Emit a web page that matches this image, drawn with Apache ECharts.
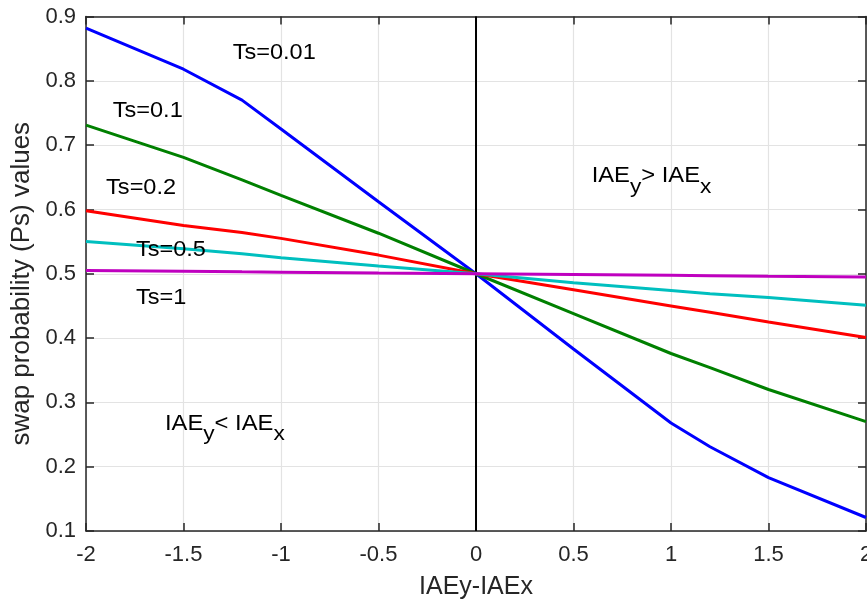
<!DOCTYPE html>
<html>
<head>
<meta charset="utf-8">
<script src="https://cdn.jsdelivr.net/npm/echarts@6/dist/echarts.min.js"></script>
<style>
html,body{margin:0;padding:0;background:#fff;}
#main{width:867px;height:603px;}
</style>
</head>
<body>
<div id="main"></div>
<script>
// ---- data ----
const xValues = [-2, -1.5, -1.2, -1, -0.5, 0, 0.5, 1, 1.2, 1.5, 2];
const ts001 = [0.882, 0.818, 0.770, 0.725, 0.612, 0.5, 0.383, 0.268, 0.231, 0.183, 0.121];
const ts01  = [0.731, 0.681, 0.646, 0.622, 0.563, 0.5, 0.438, 0.376, 0.354, 0.320, 0.270];
const ts02  = [0.598, 0.575, 0.564, 0.555, 0.529, 0.5, 0.475, 0.450, 0.440, 0.425, 0.401];
const ts05  = [0.550, 0.539, 0.531, 0.525, 0.512, 0.5, 0.486, 0.474, 0.469, 0.463, 0.451];
const ts1   = [0.505, 0.504, 0.503, 0.5025, 0.501, 0.5, 0.499, 0.4975, 0.497, 0.496, 0.495];
const seriesNames = ['Ts=0.01', 'Ts=0.1', 'Ts=0.2', 'Ts=0.5', 'Ts=1'];
const seriesColors = ['#0000ff', '#008000', '#ff0000', '#00bfbf', '#bf00bf'];
const zeroLine = [[0, 0.1], [0, 0.9]];
// label anchor positions (data coords: left x, center y)
const tsLabelPos = [[-1.248, 0.843], [-1.863, 0.753], [-1.897, 0.633], [-1.744, 0.537], [-1.744, 0.462]];
// region labels: pieces [text, isSubscript]
const regionLabels = [
  {pieces: [['IAE', 0], ['y', 1], ['> IAE', 0], ['x', 1]], pos: [0.593, 0.652]},
  {pieces: [['IAE', 0], ['y', 1], ['< IAE', 0], ['x', 1]], pos: [-1.595, 0.267]}
];

const FONT = '"Liberation Sans", Arial, Helvetica, sans-serif';
const AX = '#262626';
const GRID = '#e3e3e3';

const chart = echarts.init(document.getElementById('main'), null, {renderer: 'canvas'});

const allSeries = [ts001, ts01, ts02, ts05, ts1].map((vals, i) => ({
  name: seriesNames[i],
  type: 'line',
  data: xValues.map((x, k) => [x, vals[k]]),
  symbol: 'none',
  smooth: false,
  lineStyle: {color: seriesColors[i], width: 3},
  itemStyle: {color: seriesColors[i]},
  z: 3 + i,
  animation: false
}));
allSeries.unshift({
  name: 'zero',
  type: 'line',
  data: zeroLine,
  symbol: 'none',
  lineStyle: {color: '#000', width: 2},
  z: 2,
  animation: false
});

chart.setOption({
  backgroundColor: '#fff',
  animation: false,
  grid: {left: 86, right: 1, top: 16.5, bottom: 72, containLabel: false, outerBoundsMode: 'none'},
  xAxis: [{
    type: 'value', min: -2, max: 2, interval: 0.5,
    position: 'bottom',
    name: 'IAEy-IAEx', nameLocation: 'middle', nameGap: 44,
    nameTextStyle: {fontFamily: FONT, fontSize: 25, color: '#262626'},
    axisLine: {show: true, onZero: false, lineStyle: {color: AX, width: 1.5}},
    axisTick: {show: true, inside: true, length: 8, lineStyle: {color: AX, width: 1.5}},
    axisLabel: {fontFamily: FONT, fontSize: 22, color: '#262626', margin: 13, showMaxLabel: true, showMinLabel: true, hideOverlap: false},
    splitLine: {show: true, lineStyle: {color: GRID, width: 1.2}}
  }, {
    type: 'value', min: -2, max: 2, interval: 0.5,
    position: 'top',
    axisLine: {show: true, onZero: false, lineStyle: {color: AX, width: 1.5}},
    axisTick: {show: true, inside: true, length: 8, lineStyle: {color: AX, width: 1.5}},
    axisLabel: {show: false},
    splitLine: {show: false}
  }],
  yAxis: [{
    type: 'value', min: 0.1, max: 0.9, interval: 0.1,
    position: 'left',
    name: 'swap probability (Ps) values', nameLocation: 'middle', nameGap: 49,
    nameTextStyle: {fontFamily: FONT, fontSize: 26, color: '#262626', padding: [0, 20, 0, 0]},
    axisLine: {show: true, onZero: false, lineStyle: {color: AX, width: 1.5}},
    axisTick: {show: true, inside: true, length: 8, lineStyle: {color: AX, width: 1.5}},
    axisLabel: {fontFamily: FONT, fontSize: 22, color: '#262626', margin: 10,
      formatter: v => (Math.round(v * 10) / 10).toString()},
    splitLine: {show: true, lineStyle: {color: GRID, width: 1.2}}
  }, {
    type: 'value', min: 0.1, max: 0.9, interval: 0.1,
    position: 'right',
    axisLine: {show: true, onZero: false, lineStyle: {color: AX, width: 1.5}},
    axisTick: {show: true, inside: true, length: 8, lineStyle: {color: AX, width: 1.5}},
    axisLabel: {show: false},
    splitLine: {show: false}
  }],
  series: allSeries
});

// annotations placed via the chart's own coordinate conversion
const graphics = [];
tsLabelPos.forEach((p, i) => {
  const px = chart.convertToPixel({xAxisIndex: 0, yAxisIndex: 0}, p);
  graphics.push({
    type: 'text', x: px[0], y: px[1], scaleX: 1.07, z: 20,
    style: {text: seriesNames[i], font: '22px ' + FONT, fill: '#000',
      textAlign: 'left', textVerticalAlign: 'middle'}
  });
});
const ctx = document.createElement('canvas').getContext('2d');
const SCX = 1.08;
regionLabels.forEach(r => {
  const px = chart.convertToPixel({xAxisIndex: 0, yAxisIndex: 0}, r.pos);
  let cx = px[0];
  r.pieces.forEach(([t, sub]) => {
    const size = sub ? 21 : 22;
    const font = size + 'px ' + FONT;
    ctx.font = font;
    const w = ctx.measureText(t).width * SCX;
    graphics.push({
      type: 'text', x: cx, y: px[1] + (sub ? 11 : 0), scaleX: SCX, z: 20,
      style: {text: t, font: font, fill: '#000', textAlign: 'left', textVerticalAlign: 'middle'}
    });
    cx += w;
  });
});
chart.setOption({graphic: graphics});
</script>
</body>
</html>
